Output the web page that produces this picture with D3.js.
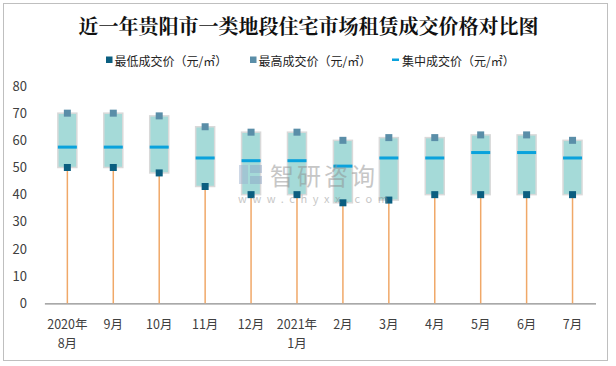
<!DOCTYPE html>
<html><head><meta charset="utf-8">
<script src="https://cdn.jsdelivr.net/npm/d3@7"></script>
<style>
html,body{margin:0;padding:0;background:#fff;}
svg{display:block;font-family:"Noto Sans CJK SC","Microsoft YaHei",sans-serif;}
</style></head>
<body>
<svg id="c" width="616" height="366"></svg>
<script>
const categories = ["2020年\n8月","9月","10月","11月","12月","2021年\n1月","2月","3月","4月","5月","6月","7月"];
const minPrice = [50,50,48,43,40,40,37,38,40,40,40,40];
const maxPrice = [70,70,69,65,63,63,60,61,61,62,62,60];
const midPrice = [57.5,57.5,57.5,53.5,52.5,52.5,50.5,53.5,53.5,55.5,55.5,53.5];
const yTicks = [0,10,20,30,40,50,60,70,80];
const seriesNames = ["最低成交价（元/㎡）","最高成交价（元/㎡）","集中成交价（元/㎡）"];
const title = "近一年贵阳市一类地段住宅市场租赁成交价格对比图";

const colMin = "#0b5e80", colMax = "#5a8ea8", colMid = "#0aa2dc", colBox = "#a5dad8", colStem = "#f0a868";

const svg = d3.select("#c");
svg.append("rect").attr("x",3.5).attr("y",3.5).attr("width",604).attr("height",357)
  .attr("fill","#fff").attr("stroke","#bfbfbf").attr("stroke-width",1);

svg.append("text").attr("x",308.5).attr("y",25).attr("text-anchor","middle")
  .attr("dominant-baseline","central").attr("font-size",20).attr("font-weight",700)
  .attr("font-family","'Noto Serif CJK SC','Noto Sans CJK SC',serif")
  .attr("fill","#111").text(title);

const x = d3.scaleBand().domain(categories).range([44.4,595.5]).padding(0);
const y = d3.scaleLinear().domain([0,80]).range([303.3,86]);

// y axis labels
const ya = svg.append("g").attr("transform","translate(27,0)")
  .call(d3.axisLeft(y).tickValues(yTicks).tickSize(0).tickPadding(0));
ya.select(".domain").remove();
ya.selectAll("text").attr("font-size",13).attr("fill","#404040").attr("font-family","'Noto Sans CJK SC',sans-serif");

// x axis
const xa = svg.append("g").attr("transform",`translate(0,${y(0)})`)
  .call(d3.axisBottom(x).tickSize(0).tickFormat(""));
xa.select(".domain").attr("stroke","#8c8c8c").attr("stroke-width",1.2);
const lab = svg.append("g");
categories.forEach(c=>{
  const lines = c.split("\n");
  const t = lab.append("text").attr("x",x(c)+x.bandwidth()/2).attr("y",322.5)
    .attr("text-anchor","middle").attr("dominant-baseline","central")
    .attr("font-size",12.5).attr("fill","#404040");
  lines.forEach((l,i)=>t.append("tspan").attr("x",x(c)+x.bandwidth()/2).attr("dy",i?19.5:0).text(l));
});

const cx = c => x(c)+x.bandwidth()/2;
const bw = 19, ms = 7;
const g = svg.append("g");
// stems
g.selectAll(".stem").data(categories).join("line")
  .attr("x1",cx).attr("x2",cx).attr("y1",(c,i)=>y(minPrice[i])).attr("y2",y(0))
  .attr("stroke",colStem).attr("stroke-width",1.5);
// boxes
g.selectAll(".box").data(categories).join("rect")
  .attr("x",c=>cx(c)-bw/2).attr("width",bw)
  .attr("y",(c,i)=>y(maxPrice[i])).attr("height",(c,i)=>y(minPrice[i])-y(maxPrice[i]))
  .attr("fill",colBox).attr("stroke","#d9d9d9").attr("stroke-width",1.5);
// median
g.selectAll(".mid").data(categories).join("rect")
  .attr("x",c=>cx(c)-bw/2).attr("width",bw)
  .attr("y",(c,i)=>y(midPrice[i])-1.5).attr("height",3)
  .attr("fill",colMid);
// max markers
g.selectAll(".mx").data(categories).join("rect")
  .attr("x",c=>cx(c)-ms/2).attr("y",(c,i)=>y(maxPrice[i])-ms/2).attr("width",ms).attr("height",ms)
  .attr("fill",colMax);
// min markers
g.selectAll(".mn").data(categories).join("rect")
  .attr("x",c=>cx(c)-ms/2).attr("y",(c,i)=>y(minPrice[i])-ms/2).attr("width",ms).attr("height",ms)
  .attr("fill",colMin);

// watermark
const wm = svg.append("g").attr("opacity",0.5);
wm.append("rect").attr("x",239).attr("y",165).attr("width",9).attr("height",19).attr("fill","#9fb3cf");
wm.append("rect").attr("x",250).attr("y",165).attr("width",12).attr("height",8).attr("fill","#8fa7c7");
wm.append("rect").attr("x",250).attr("y",176).attr("width",12).attr("height",8).attr("fill","#8fa7c7");
wm.append("text").attr("x",270).attr("y",174).attr("dominant-baseline","central").attr("font-size",24)
  .attr("fill","#8f8f8f").attr("letter-spacing",3).text("智研咨询");
wm.append("text").attr("x",238).attr("y",197.5).attr("dominant-baseline","central").attr("font-size",11)
  .attr("fill","#8f8f8f").attr("letter-spacing",5.6).text("www.chyxx.com");

// legend
const lg = svg.append("g").attr("font-size",12).attr("fill","#333");
const legX = [106,250,392];
legX.forEach((lx,i)=>{
  if(i<2) lg.append("rect").attr("x",lx).attr("y",56.5).attr("width",6.5).attr("height",6.5).attr("fill",i?colMax:colMin);
  else lg.append("rect").attr("x",lx).attr("y",58.5).attr("width",7).attr("height",2.5).attr("fill",colMid);
  lg.append("text").attr("x",lx+(i<2?8.5:10)).attr("y",60).attr("dominant-baseline","central").attr("fill","#222").text(seriesNames[i]);
});
</script>
</body></html>
